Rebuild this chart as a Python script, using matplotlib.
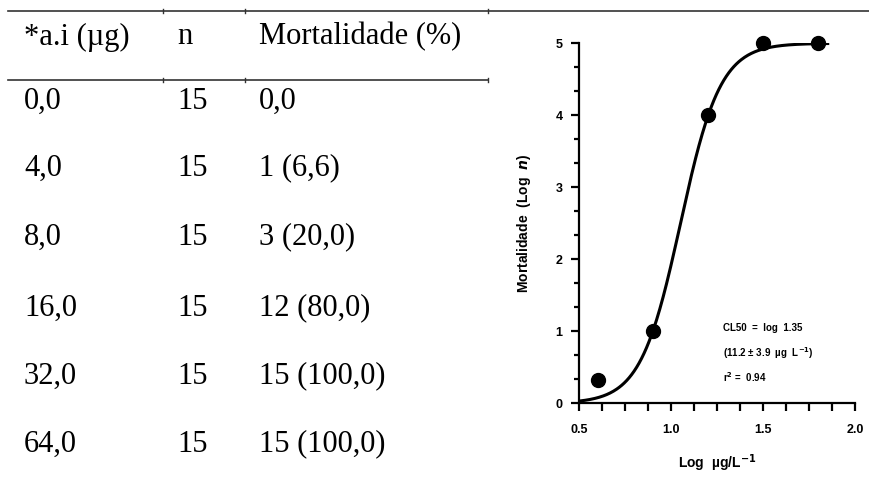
import numpy as np
import matplotlib
matplotlib.use('Agg')
from matplotlib import pyplot as plt
from matplotlib.ticker import MultipleLocator, FormatStrFormatter

# table data
header = ['*a.i (µg)', 'n', 'Mortalidade (%)']
dose = ['0,0', '4,0', '8,0', '16,0', '32,0', '64,0']
n_ind = ['15', '15', '15', '15', '15', '15']
mortality = ['0,0', '1 (6,6)', '3 (20,0)', '12 (80,0)', '15 (100,0)', '15 (100,0)']

# dose-response points (log µg/L vs mortality)
log_conc = [0.6, 0.9, 1.2, 1.5, 1.8]
mort_log = [0.33, 1.0, 4.0, 5.0, 5.0]

# fitted sigmoid (4PL) parameters
fit_bottom = 0.0
fit_top = 5.0
fit_logec50 = 1.05
fit_hill = 4.0

plt.rcParams['font.family'] = 'Liberation Sans'
plt.rcParams['font.weight'] = 'bold'
plt.rcParams['axes.labelweight'] = 'bold'
plt.rcParams['mathtext.default'] = 'bf'

fig = plt.figure(figsize=(8.7, 4.86), dpi=100)

# ---- table on the left, laid out in pixel units
tab = fig.add_axes([0, 0, 1, 1])
tab.set_xlim(0, 870)
tab.set_ylim(486, 0)
tab.axis('off')

serif = 'Liberation Serif'
col_x = [24, 177, 259]
tab.plot([8, 870], [11, 11], color='#333333', lw=1.2)
tab.plot([8, 488], [80, 80], color='#333333', lw=1.2)
for xs in [163, 245, 488]:
    tab.plot([xs, xs], [9, 13], color='#333333', lw=1)
    tab.plot([xs, xs], [78, 82], color='#333333', lw=1)

for x, h in zip(col_x, header):
    tab.text(x, 37, h, family=serif, fontweight='normal', fontsize=22, va='center', ha='left')

row_y = [101, 168, 237, 308, 376, 444]
for y, a, b, c in zip(row_y, dose, n_ind, mortality):
    for x, s in zip(col_x, [a, b, c]):
        tab.text(x, y, s, family=serif, fontweight='normal', fontsize=22, va='center', ha='left')

# ---- dose-response plot on the right
ax = fig.add_axes([579.3 / 870, 1 - 403.3 / 486, 276 / 870, 360 / 486])
xs = np.linspace(0.5, 1.85, 300)
ys = fit_bottom + (fit_top - fit_bottom) / (1 + 10 ** ((fit_logec50 - xs) * fit_hill))
ax.plot(xs, ys, color='black', lw=2.2, zorder=2)
ax.plot(log_conc, mort_log, 'o', color='black', ms=10, zorder=3, clip_on=False)

ax.set_xlim(0.5, 2.0)
ax.set_ylim(0, 5)
ax.spines['top'].set_visible(False)
ax.spines['right'].set_visible(False)
ax.spines['left'].set_linewidth(1.6)
ax.spines['bottom'].set_linewidth(1.6)
ax.xaxis.set_major_locator(MultipleLocator(0.5))
ax.xaxis.set_minor_locator(MultipleLocator(0.125))
ax.yaxis.set_major_locator(MultipleLocator(1))
ax.yaxis.set_minor_locator(MultipleLocator(1 / 3))
ax.xaxis.set_major_formatter(FormatStrFormatter('%.1f'))
ax.yaxis.set_major_formatter(FormatStrFormatter('%d'))
ax.tick_params(which='major', axis='both', length=6, width=1.6, labelsize=9)
ax.tick_params(which='minor', axis='x', length=6, width=1.6)
ax.tick_params(which='minor', axis='y', length=3.5, width=1.6)
ax.tick_params(axis='x', pad=9)
ax.tick_params(axis='y', pad=6)

ax.set_xlabel('Log  µg/L$^{-1}$', fontsize=10, fontweight='bold', labelpad=12)
ax.set_ylabel('Mortalidade  (Log  $\\mathbfit{n}$)', fontsize=10, fontweight='bold', labelpad=16)

note_kw = dict(fontsize=7, fontweight='bold', ha='left', va='center')
ax.text(1.28, 1.05, 'CL50  =  log  1.35', **note_kw)
ax.text(1.28, 0.70, '(11.2 ± 3.9  µg  L$^{-1}$)', **note_kw)
ax.text(1.28, 0.36, 'r$^{2}$ =  0.94', **note_kw)

fig.savefig('out.png', dpi=100)
